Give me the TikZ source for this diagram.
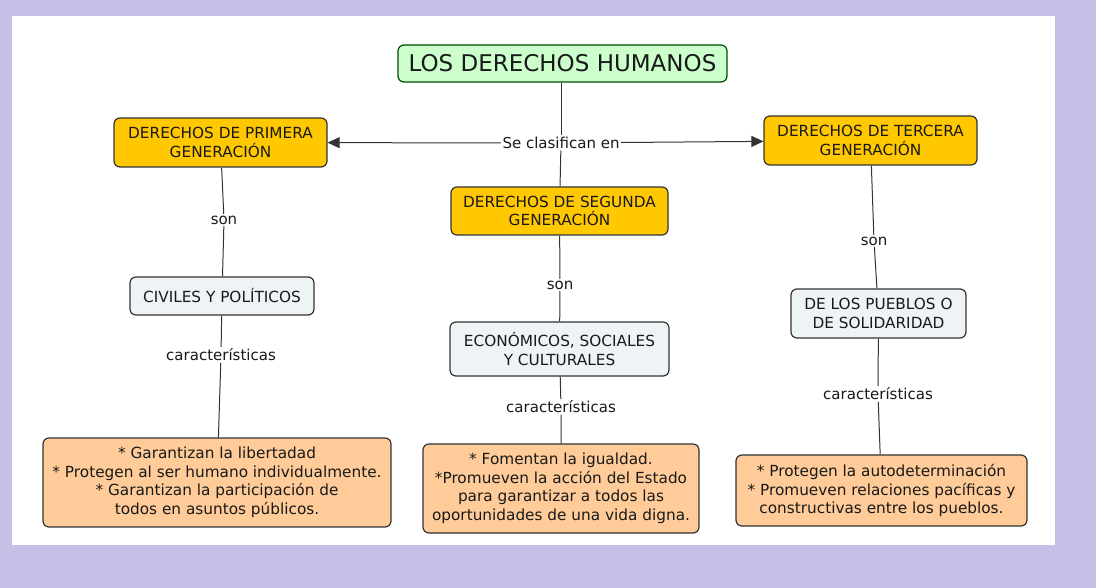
\documentclass[tikz,border=0pt]{standalone}
\usepackage{fontspec}
\setmainfont{DejaVu Sans}
\usetikzlibrary{arrows.meta}
\definecolor{lav}{HTML}{C8BFE6}
\definecolor{gold}{HTML}{FFC800}
\definecolor{pale}{HTML}{EEF3F6}
\definecolor{peach}{HTML}{FFCC99}
\definecolor{mint}{HTML}{CCFFCC}
\definecolor{edge}{HTML}{333333}
\tikzset{
  box/.style={draw=edge, line width=1.2pt, rounded corners=6pt, align=center, inner sep=2pt,
    font=\fontsize{15.3}{18.5}\selectfont, text=black!90},
  gen/.style={box, fill=gold},
  kind/.style={box, fill=pale},
  feat/.style={box, fill=peach},
  lbl/.style={inner sep=1.5pt, font=\fontsize{15}{18}\selectfont, text=black!90},
  link/.style={draw=edge, line width=1pt},
  arr/.style={link, -{Triangle[length=12pt,width=11pt]}}
}
\begin{document}
\begin{tikzpicture}[x=1pt,y=-1pt]
\fill[lav] (0,0) rectangle (1096,588);
\fill[white] (12,16) rectangle (1055,545);
\useasboundingbox (0,0) rectangle (1096,588);

\node[box, fill=mint, draw=green!30!black, minimum width=329pt, minimum height=37pt,
  font=\fontsize{23}{26}\selectfont] (title) at (562.5,63.5) {LOS DERECHOS HUMANOS};

\node[gen, minimum width=213pt, minimum height=49pt] (g1) at (220.5,142.5) {DERECHOS DE PRIMERA\\GENERACIÓN};
\node[gen, minimum width=217pt, minimum height=48pt] (g2) at (559.5,211) {DERECHOS DE SEGUNDA\\GENERACIÓN};
\node[gen, minimum width=213pt, minimum height=49pt] (g3) at (870.5,140.5) {DERECHOS DE TERCERA\\GENERACIÓN};

\node[kind, minimum width=184pt, minimum height=38pt] (k1) at (222,296) {CIVILES Y POLÍTICOS};
\node[kind, minimum width=219pt, minimum height=54pt] (k2) at (559.5,349) {ECONÓMICOS, SOCIALES\\Y CULTURALES};
\node[kind, minimum width=175pt, minimum height=49pt] (k3) at (878.5,313.5) {DE LOS PUEBLOS O\\DE SOLIDARIDAD};

\node[feat, minimum width=348pt, minimum height=89pt] (f1) at (217,482.5)
  {* Garantizan la libertadad\\* Protegen al ser humano individualmente.\\* Garantizan la participación de\\todos en asuntos públicos.};
\node[feat, minimum width=276pt, minimum height=89pt] (f2) at (561,488.5)
  {* Fomentan la igualdad.\\*Promueven la acción del Estado\\para garantizar a todos las\\oportunidades de una vida digna.};
\node[feat, minimum width=291pt, minimum height=71pt] (f3) at (881.5,490.5)
  {* Protegen la autodeterminación\\* Promueven relaciones pacíficas y\\constructivas entre los pueblos.};

\node[lbl] (se) at (561,143) {Se clasifican en};
\node[lbl] (s1) at (224,220) {son};
\node[lbl] (s2) at (560,285) {son};
\node[lbl] (s3) at (874,241) {son};
\node[lbl] (c1) at (221,355) {características};
\node[lbl] (c2) at (561,407) {características};
\node[lbl] (c3) at (878,394) {características};

\draw[link] (title.south -| se) -- (se);
\draw[link] (se) -- (g2);
\draw[arr] (se) -- (g1);
\draw[arr] (se) -- (g3);
\draw[link] (g1) -- (s1) -- (k1);
\draw[link] (k1) -- (c1) -- (f1);
\draw[link] (g2) -- (s2) -- (k2);
\draw[link] (k2) -- (c2) -- (f2);
\draw[link] (g3) -- (s3) -- (k3);
\draw[link] (k3) -- (c3) -- (f3);
\end{tikzpicture}
\end{document}
